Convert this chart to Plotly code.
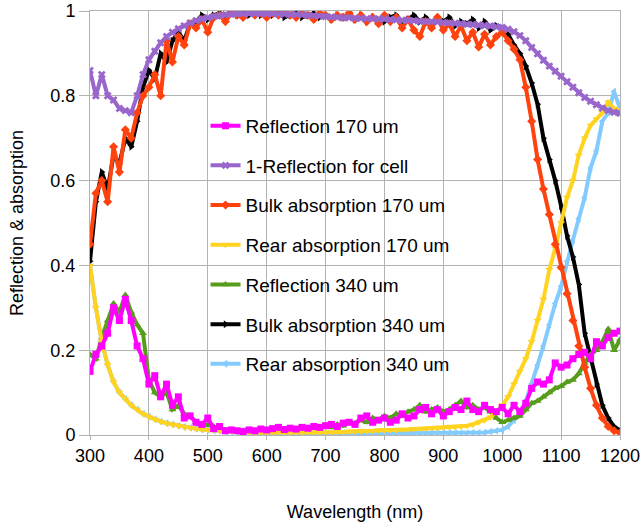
import plotly.graph_objects as go

wavelength = list(range(300, 1201, 10))

refl_170 = [0.15, 0.19, 0.21, 0.24, 0.30, 0.27, 0.32, 0.27, 0.21, 0.18,
            0.12, 0.14, 0.09, 0.12, 0.07, 0.09, 0.04, 0.045, 0.03, 0.025,
            0.04, 0.015, 0.02, 0.01, 0.012, 0.01, 0.008, 0.012, 0.01, 0.014,
            0.012, 0.015, 0.018, 0.013, 0.016, 0.014, 0.018, 0.016, 0.02, 0.018,
            0.022, 0.025, 0.02, 0.028, 0.03, 0.025, 0.04, 0.045, 0.03, 0.035,
            0.04, 0.03, 0.035, 0.05, 0.04, 0.045, 0.06, 0.065, 0.05, 0.06,
            0.045, 0.055, 0.065, 0.06, 0.08, 0.06, 0.055, 0.07, 0.06, 0.055,
            0.065, 0.05, 0.07, 0.055, 0.075, 0.11, 0.125, 0.12, 0.13, 0.17,
            0.16, 0.165, 0.18, 0.19, 0.195, 0.18, 0.22, 0.21, 0.23, 0.24,
            0.245]

one_minus_refl_cell = [0.86, 0.80, 0.85, 0.80, 0.79, 0.77, 0.765, 0.76, 0.80, 0.85,
                       0.885, 0.905, 0.925, 0.94, 0.95, 0.958, 0.965, 0.972, 0.977, 0.981,
                       0.984, 0.987, 0.989, 0.991, 0.992, 0.993, 0.994, 0.994, 0.994, 0.994,
                       0.994, 0.994, 0.993, 0.993, 0.992, 0.992, 0.991, 0.990, 0.989, 0.988,
                       0.987, 0.986, 0.985, 0.984, 0.984, 0.983, 0.983, 0.982, 0.982, 0.981,
                       0.981, 0.980, 0.979, 0.978, 0.978, 0.977, 0.976, 0.975, 0.975, 0.974,
                       0.973, 0.972, 0.971, 0.970, 0.969, 0.968, 0.967, 0.966, 0.965, 0.963,
                       0.961, 0.957, 0.951, 0.942, 0.930, 0.914, 0.899, 0.884, 0.870, 0.858,
                       0.846, 0.833, 0.820, 0.807, 0.796, 0.787, 0.779, 0.771, 0.765, 0.761,
                       0.759]

bulk_170 = [0.45, 0.57, 0.60, 0.55, 0.68, 0.62, 0.72, 0.70, 0.76, 0.80,
            0.82, 0.85, 0.80, 0.93, 0.88, 0.94, 0.92, 0.97, 0.96, 0.98,
            0.95, 0.985, 0.99, 0.975, 0.995, 0.99, 0.985, 1.0, 0.99, 0.995,
            0.985, 0.995, 0.99, 0.998, 0.99, 0.985, 0.995, 0.99, 0.98, 0.995,
            0.99, 0.98, 0.99, 0.985, 0.995, 0.98, 0.99, 0.975, 0.985, 0.97,
            0.99, 0.975, 0.985, 0.96, 0.98, 0.955, 0.94, 0.975, 0.96, 0.985,
            0.955, 0.97, 0.94, 0.965, 0.93, 0.95, 0.915, 0.945, 0.92, 0.94,
            0.95, 0.93, 0.91, 0.885, 0.82, 0.74, 0.65, 0.58, 0.52, 0.45,
            0.395, 0.333, 0.27, 0.21, 0.16, 0.11, 0.07, 0.04, 0.02, 0.01,
            0.005]

rear_170 = [0.40, 0.30, 0.22, 0.165, 0.125, 0.10, 0.085, 0.07, 0.06, 0.05,
            0.043, 0.037, 0.032, 0.028, 0.025, 0.022, 0.019, 0.017, 0.015, 0.013,
            0.012, 0.011, 0.010, 0.009, 0.008, 0.008, 0.007, 0.007, 0.006, 0.006,
            0.006, 0.005, 0.005, 0.005, 0.005, 0.005, 0.005, 0.005, 0.005, 0.006,
            0.006, 0.006, 0.007, 0.007, 0.008, 0.008, 0.009, 0.010, 0.010, 0.011,
            0.011, 0.012, 0.012, 0.013, 0.013, 0.014, 0.015, 0.015, 0.016, 0.016,
            0.017, 0.018, 0.019, 0.020, 0.022, 0.025, 0.030, 0.035, 0.042, 0.055,
            0.07, 0.09, 0.12, 0.15, 0.18, 0.22, 0.27, 0.32, 0.39, 0.44,
            0.50, 0.56, 0.60, 0.66, 0.70, 0.73, 0.745, 0.76, 0.785, 0.77,
            0.765]

refl_340 = [0.19, 0.18, 0.23, 0.27, 0.31, 0.29, 0.33, 0.29, 0.26, 0.24,
            0.13, 0.10, 0.09, 0.10, 0.06, 0.07, 0.05, 0.045, 0.03, 0.02,
            0.025, 0.02, 0.015, 0.012, 0.01, 0.008, 0.01, 0.008, 0.01, 0.012,
            0.01, 0.012, 0.015, 0.012, 0.015, 0.013, 0.016, 0.014, 0.018, 0.016,
            0.02, 0.018, 0.025, 0.022, 0.03, 0.028, 0.035, 0.03, 0.04, 0.035,
            0.045, 0.04, 0.05, 0.045, 0.055, 0.06, 0.07, 0.055, 0.06, 0.065,
            0.055, 0.06, 0.07, 0.08, 0.065, 0.07, 0.06, 0.065, 0.055, 0.04,
            0.03, 0.035, 0.04, 0.045, 0.06, 0.075, 0.08, 0.09, 0.10, 0.11,
            0.115, 0.125, 0.13, 0.145, 0.17, 0.19, 0.2, 0.22, 0.25, 0.2,
            0.225]

bulk_340 = [0.41, 0.55, 0.62, 0.58, 0.66, 0.64, 0.70, 0.68, 0.74, 0.82,
            0.86, 0.84, 0.90, 0.88, 0.93, 0.95, 0.93, 0.97, 0.975, 0.99,
            0.98, 0.99, 0.995, 0.99, 1.0, 0.99, 0.995, 0.99, 0.998, 0.99,
            0.995, 0.99, 0.995, 0.985, 0.99, 0.995, 0.985, 0.99, 0.995, 0.985,
            0.99, 0.98, 0.99, 0.985, 0.99, 0.98, 0.99, 0.975, 0.985, 0.98,
            0.975, 0.985, 0.99, 0.97, 0.98, 0.99, 0.975, 0.985, 0.97, 0.98,
            0.975, 0.985, 0.965, 0.975, 0.97, 0.98, 0.96, 0.975, 0.955, 0.965,
            0.96, 0.945, 0.92, 0.90, 0.87, 0.83, 0.78, 0.70, 0.65, 0.60,
            0.54, 0.47, 0.42, 0.355, 0.24, 0.18, 0.12, 0.07, 0.04, 0.02,
            0.01]

rear_340 = [0.40, 0.30, 0.22, 0.165, 0.125, 0.10, 0.085, 0.07, 0.06, 0.05,
            0.043, 0.037, 0.032, 0.028, 0.025, 0.022, 0.019, 0.017, 0.015, 0.013,
            0.012, 0.011, 0.010, 0.009, 0.008, 0.007, 0.006, 0.005, 0.005, 0.004,
            0.004, 0.004, 0.004, 0.004, 0.004, 0.004, 0.004, 0.004, 0.004, 0.004,
            0.004, 0.004, 0.004, 0.004, 0.004, 0.004, 0.004, 0.004, 0.004, 0.004,
            0.004, 0.004, 0.004, 0.004, 0.004, 0.004, 0.004, 0.004, 0.004, 0.004,
            0.004, 0.004, 0.004, 0.004, 0.004, 0.005, 0.005, 0.006, 0.008, 0.010,
            0.012, 0.02, 0.035, 0.05, 0.08, 0.12, 0.165, 0.21, 0.26, 0.31,
            0.35, 0.41, 0.46, 0.51, 0.56, 0.63, 0.67, 0.74, 0.76, 0.81,
            0.77]

series = [
    ("Reflection 170 um", refl_170, "#ff00ff", "square"),
    ("1-Reflection for cell", one_minus_refl_cell, "#9966cc", "x"),
    ("Bulk absorption 170 um", bulk_170, "#ff420e", "diamond"),
    ("Rear absorption 170 um", rear_170, "#ffd320", "triangle-down"),
    ("Reflection 340 um", refl_340, "#579d1c", "triangle-up"),
    ("Bulk absorption 340 um", bulk_340, "#000000", "triangle-right"),
    ("Rear absorption 340 um", rear_340, "#83caff", "triangle-left"),
]

fig = go.Figure()
for i, (name, vals, color, sym) in reversed(list(enumerate(series))):
    fig.add_trace(go.Scatter(
        x=wavelength, y=vals, name=name, mode="lines+markers",
        line=dict(color=color, width=4),
        marker=dict(color=color, symbol=sym, size=7, line=dict(width=0)),
        legendgroup=f"g{i}", legendrank=i + 1,
    ))

grid = "#b3b3b3"
fig.update_layout(
    width=641, height=528,
    margin=dict(l=90, r=21, t=11, b=93),
    paper_bgcolor="white", plot_bgcolor="white",
    font=dict(family="Liberation Sans", size=18, color="#000000"),
    showlegend=True,
    legend=dict(x=0.218, y=0.774, xanchor="left", yanchor="top",
                bgcolor="rgba(0,0,0,0)", traceorder="grouped",
                tracegroupgap=12, font=dict(size=19)),
    xaxis=dict(range=[300, 1200], dtick=100, tick0=300, showgrid=True, gridcolor=grid,
               gridwidth=1, ticks="outside", ticklen=4, tickcolor=grid,
               showline=True, linecolor=grid, mirror=True, zeroline=False,
               automargin=False,
               title=dict(text="Wavelength (nm)", font=dict(size=18), standoff=40),
               tickfont=dict(size=18)),
    yaxis=dict(range=[0, 1], dtick=0.2, showgrid=True, gridcolor=grid, gridwidth=1,
               ticks="outside", ticklen=10, tickcolor=grid,
               showline=True, linecolor=grid, mirror=True, zeroline=False,
               automargin=False,
               title=dict(text="Reflection & absorption", font=dict(size=18), standoff=22),
               tickfont=dict(size=18)),
)

fig.write_html("out.html")
